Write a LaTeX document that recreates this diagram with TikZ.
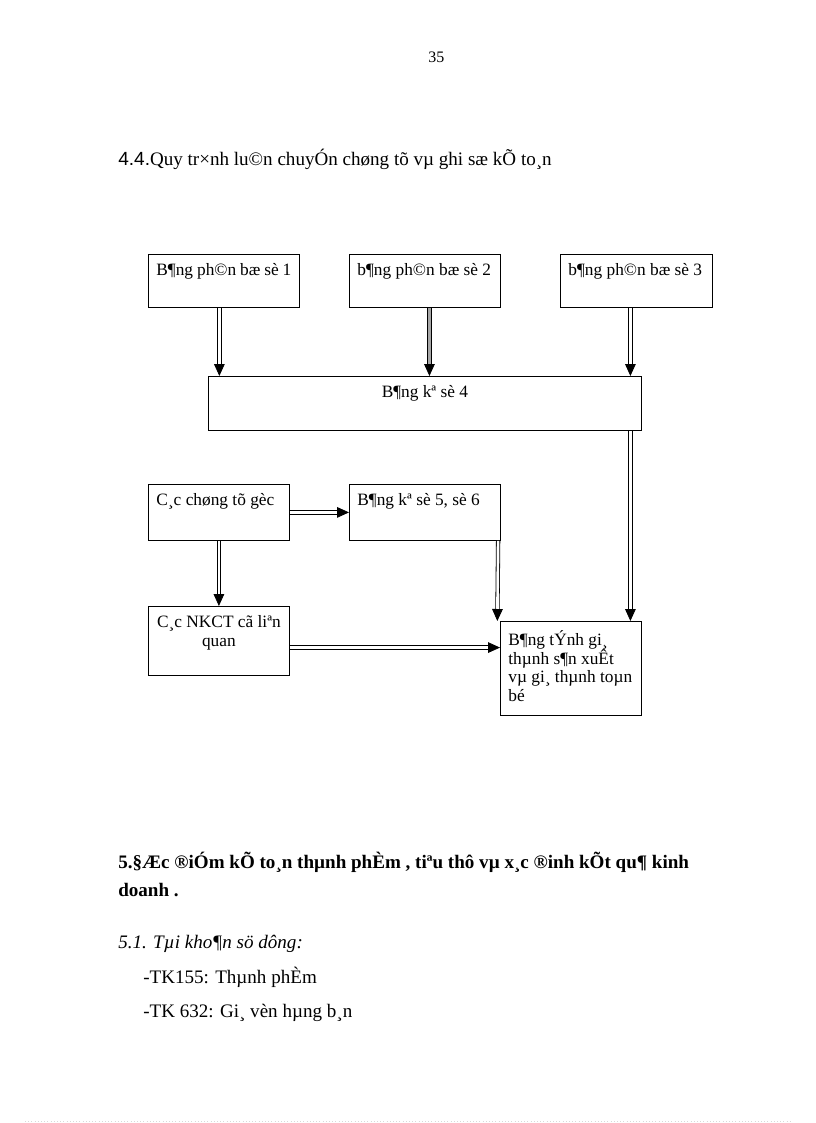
\documentclass[tikz,border=0pt]{standalone}
\usepackage{fontspec}
\setmainfont{Liberation Serif}
\newfontfamily\arialfont{Liberation Sans}
\usepackage{tikz}
\usetikzlibrary{arrows.meta}

\newcommand\boxtxt[3]{\parbox[t][#2][t]{#1}{#3}}

\begin{document}
\begin{tikzpicture}[x=0.75pt, y=-0.75pt,
	box/.style={draw, line width=0.6pt, anchor=north west, inner xsep=6pt, inner ysep=7pt, font=\fontsize{13}{14}\selectfont},
	dbl/.style={double, double distance=2pt, line width=0.6pt, -{Triangle[length=9pt, width=8pt]}},
	txt/.style={anchor=base west, inner sep=0pt, font=\fontsize{14.3}{16}\selectfont}]
	\useasboundingbox (0,0) rectangle (816,1123);
	% boxes
	\node[box] (b1) at (148,254) {\boxtxt{101.25pt}{25.75pt}{B¶ng ph©n bæ sè 1}};
	\node[box] (b2) at (349,254) {\boxtxt{101.25pt}{25.75pt}{b¶ng ph©n bæ sè 2}};
	\node[box] (b3) at (560,254) {\boxtxt{102pt}{25.75pt}{b¶ng ph©n bæ sè 3}};
	\node[box] (b4) at (208,376) {\boxtxt{312.75pt}{26.5pt}{\centering B¶ng kª sè 4}};
	\node[box] (goc) at (148,484) {\boxtxt{93.75pt}{28pt}{C¸c chøng tõ gèc}};
	\node[box] (k56) at (349,484) {\boxtxt{101.25pt}{28pt}{B¶ng kª sè 5, sè 6}};
	\node[box] (nkct) at (148,606) {\boxtxt{93.75pt}{37.75pt}{\centering C¸c NKCT cã liªn\\quan}};
	\node[box] (tinh) at (500,621) {\boxtxt{93.75pt}{56.5pt}{B¶ng tÝnh gi¸\\thµnh s¶n xuÊt\\vµ gi¸ thµnh toµn\\bé}};
	% arrows
	\draw[dbl] ([xshift=-3.4pt]b1.south) -- ([xshift=-3.4pt]b1.south |- b4.north);
	\draw[dbl, double=gray!70] ([xshift=3.4pt]b2.south) -- ([xshift=3.4pt]b2.south |- b4.north);
	\draw[dbl] ([xshift=-4.5pt]b3.south) -- ([xshift=-4.5pt]b3.south |- b4.north);
	\draw[dbl] ([xshift=-4.5pt]b3.south |- b4.south) -- ([xshift=-4.5pt]b3.south |- tinh.north);
	\draw[dbl] (goc.east) -- (k56.west);
	\draw[dbl] (goc.south) -- (nkct.north);
	\draw[dbl] ([xshift=-2pt]k56.south east) -- ([xshift=-2pt]tinh.north west);
	\draw[dbl] ([yshift=-5pt]nkct.east) -- ([yshift=-5pt]nkct.east -| tinh.west);
	% labels
	\node[txt, font=\fontsize{12}{14}\selectfont] (page) at (428,63) {35};
	\node[txt] (h44) at (118,166) {{\arialfont 4.4.}Quy tr×nh lu©n chuyÓn chøng tõ vµ ghi sæ kÕ to¸n};
	\node[txt, font=\fontsize{14.3}{16}\bfseries] (h5a) at (118,868) {5.§Æc ®iÓm kÕ to¸n thµnh phÈm , tiªu thô vµ x¸c ®inh kÕt qu¶ kinh};
	\node[txt, font=\fontsize{14.3}{16}\bfseries] (h5b) at (118,896) {doanh .};
	\node[txt, font=\fontsize{14.3}{16}\itshape] (h51) at (118,948) {5.1. Tµi kho¶n sö dông:};
	\node[txt] (tk155) at (143,983) {-TK155: Thµnh phÈm};
	\node[txt] (tk632) at (143,1017) {-TK 632: Gi¸ vèn hµng b¸n};
	% page edge
	\draw[gray!30, dotted] (25,1121) -- (790,1121);
\end{tikzpicture}
\end{document}
